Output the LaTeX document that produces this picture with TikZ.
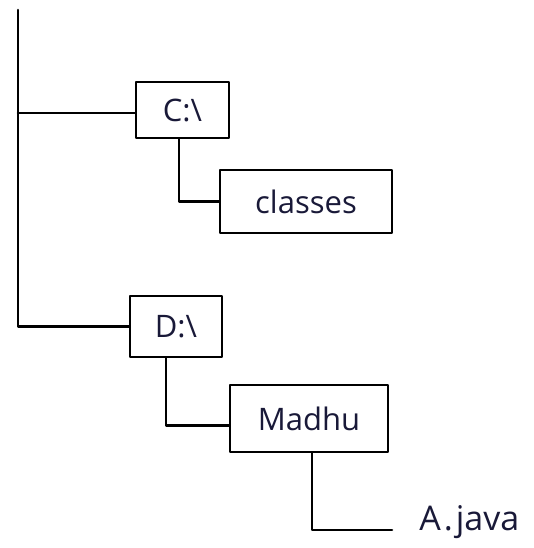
\documentclass[tikz,border=0pt]{standalone}
\usepackage{fontspec}
\setmainfont{Open Sans}
\definecolor{ink}{rgb}{0.10,0.10,0.22}
\begin{document}
\begin{tikzpicture}[x=1pt,y=-1pt,
    line width=2.6pt, line join=round, line cap=round,
    dirbox/.style={draw=black, rectangle, inner sep=0pt, text=ink, font=\fontsize{31}{34}\selectfont},
    filelabel/.style={anchor=west, inner sep=0pt, text=ink, font=\fontsize{34}{38}\selectfont}]
  \useasboundingbox (0,0) rectangle (533,548);

  % directory boxes
  \node[dirbox, minimum width=93pt, minimum height=56pt] (c) at (182.5,110) {C:\textbackslash};
  \node[dirbox, minimum width=172pt, minimum height=63pt] (classes) at (306,201.5) {classes};
  \node[dirbox, minimum width=92pt, minimum height=61pt] (d) at (176,326.5) {D:\textbackslash};
  \node[dirbox, minimum width=158pt, minimum height=67pt] (madhu) at (309,418.5) {Madhu};
  \node[filelabel] (ajava) at (418,522) {A\kern3pt.\kern3pt java};

  % tree connectors
  \coordinate (root) at (18,10);
  \coordinate (cbranch) at (18,113);
  \coordinate (javaend) at (392,530);

  \draw (root) |- (d.west);
  \draw (cbranch) -- (c.west |- cbranch);
  \draw ([xshift=-3.5pt]c.south) |- (classes.west);
  \draw ([xshift=-10pt]d.south) |- ([yshift=-7pt]madhu.west);
  \draw ([xshift=3pt]madhu.south) |- (javaend);
\end{tikzpicture}
\end{document}
